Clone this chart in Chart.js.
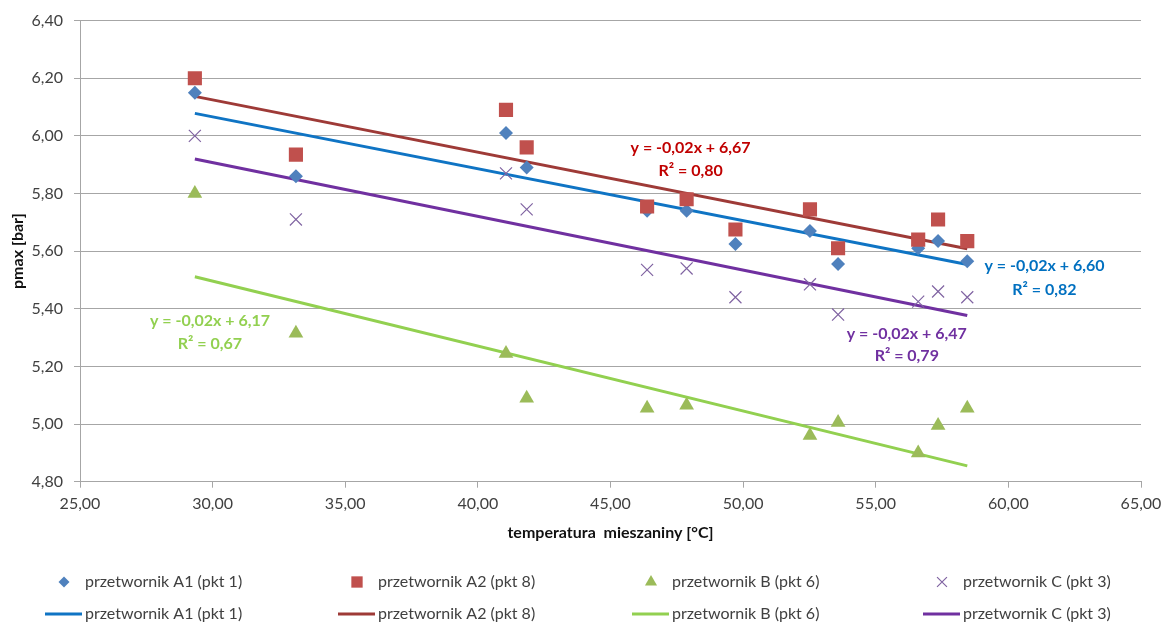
<!DOCTYPE html>
<html>
<head>
<meta charset="utf-8">
<script src="https://cdn.jsdelivr.net/npm/chart.js@4"></script>
<style>
  body { margin: 0; background: #fff; }
  #chart { display: block; }
</style>
</head>
<body>
<canvas id="chart" width="1169" height="625"></canvas>
<script>
// temperatura mieszaniny [°C] dla kolejnych pomiarów
const temps = [29.33, 33.14, 41.06, 41.84, 46.38, 47.87, 49.71, 52.52, 53.58, 56.60, 57.35, 58.45];

// pmax [bar] dla każdego przetwornika
const valsA1 = [6.15, 5.86, 6.01, 5.89, 5.74, 5.74, 5.625, 5.67, 5.555, 5.61, 5.635, 5.565];
const valsA2 = [6.20, 5.935, 6.09, 5.96, 5.755, 5.78, 5.675, 5.745, 5.61, 5.64, 5.71, 5.635];
const valsB  = [5.80, 5.315, 5.245, 5.09, 5.055, 5.065, null, 4.96, 5.005, 4.90, 4.995, 5.055];
const valsC  = [6.00, 5.71, 5.87, 5.745, 5.535, 5.54, 5.44, 5.485, 5.38, 5.425, 5.46, 5.44];

// linie trendu: początek i koniec
const trendX  = [29.33, 58.45];
const trendA1 = [6.078, 5.554];
const trendA2 = [6.137, 5.608];
const trendB  = [5.511, 4.855];
const trendC  = [5.920, 5.377];

const seriesNames = ['przetwornik A1 (pkt 1)', 'przetwornik A2 (pkt 8)', 'przetwornik B (pkt 6)', 'przetwornik C (pkt 3)'];

// równania trendu i ich położenie (w jednostkach osi)
const eqTexts = ['y = -0,02x + 6,60', 'y = -0,02x + 6,67', 'y = -0,02x + 6,17', 'y = -0,02x + 6,47'];
const r2Texts = ['R² = 0,82', 'R² = 0,80', 'R² = 0,67', 'R² = 0,79'];
const eqX  = [61.36, 48.02, 29.90, 56.17];
const eqY  = [5.549, 5.960, 5.357, 5.314];
const r2Y  = [5.467, 5.880, 5.277, 5.238];

const yTicks = [4.8, 5.0, 5.2, 5.4, 5.6, 5.8, 6.0, 6.2, 6.4];
const xTicks = [25, 30, 35, 40, 45, 50, 55, 60, 65];

const colors = {
    a1: '#4F81BD', a2: '#C0504D', b: '#9BBB59', c: '#8064A2',
    trendA1: '#0F74C4', trendA2: '#9E3A37', trendB: '#92D050', trendC: '#7030A0',
    textA1: '#0070C0', textA2: '#C00000', textB: '#92D050', textC: '#7030A0',
    grid: '#A6A6A6', tick: '#404040'
};

const FONT = 'Lato, "Open Sans", sans-serif';

const pts = vals => temps.map((t, i) => ({ x: t, y: vals[i] })).filter(p => p.y !== null);
const line = vals => trendX.map((t, i) => ({ x: t, y: vals[i] }));

function scatterSet(label, vals, style, radius, color, order) {
    return {
        label, data: pts(vals), showLine: false,
        pointStyle: style, pointRadius: radius, pointHoverRadius: radius,
        backgroundColor: color, borderColor: color,
        borderWidth: style === 'crossRot' ? 1.2 : 0,
        order
    };
}

function trendSet(label, vals, color, order) {
    return {
        label, data: line(vals), showLine: true, pointRadius: 0,
        borderColor: color, backgroundColor: color, borderWidth: 3,
        pointStyle: 'line', order
    };
}

const datasets = [
    scatterSet(seriesNames[0], valsA1, 'rectRot', 7, colors.a1, 4),
    scatterSet(seriesNames[1], valsA2, 'rect', 10, colors.a2, 3),
    scatterSet(seriesNames[2], valsB, 'triangle', 8.5, colors.b, 2),
    scatterSet(seriesNames[3], valsC, 'crossRot', 8.5, colors.c, 1),
    trendSet(seriesNames[0], trendA1, colors.trendA1, 8),
    trendSet(seriesNames[1], trendA2, colors.trendA2, 7),
    trendSet(seriesNames[2], trendB, colors.trendB, 6),
    trendSet(seriesNames[3], trendC, colors.trendC, 5)
];

// etykiety z równaniami trendu
const trendLabels = {
    id: 'trendLabels',
    afterDatasetsDraw(chart) {
        const { ctx, scales: { x, y } } = chart;
        const textColors = [colors.textA1, colors.textA2, colors.textB, colors.textC];
        ctx.save();
        ctx.font = 'bold 16px ' + FONT;
        ctx.textAlign = 'center';
        ctx.textBaseline = 'middle';
        eqTexts.forEach((t, i) => {
            ctx.fillStyle = textColors[i];
            ctx.fillText(t, x.getPixelForValue(eqX[i]), y.getPixelForValue(eqY[i]));
            ctx.fillText(r2Texts[i], x.getPixelForValue(eqX[i]), y.getPixelForValue(r2Y[i]));
        });
        ctx.restore();
    }
};

// legenda w układzie 4 kolumny x 2 wiersze
const gridLegend = {
    id: 'gridLegend',
    afterDraw(chart) {
        const { ctx } = chart;
        const colX = [85, 378, 672, 963];
        const rowY = [582, 614];
        ctx.save();
        ctx.font = '16px ' + FONT;
        ctx.textBaseline = 'middle';
        ctx.textAlign = 'left';
        chart.data.datasets.forEach((ds, i) => {
            const col = i % 4, row = Math.floor(i / 4);
            const tx = colX[col], ty = rowY[row];
            if (row === 0) {
                const r = ds.pointStyle === 'rect' ? 8 : ds.pointStyle === 'triangle' ? 7 : ds.pointStyle === 'crossRot' ? 7 : 5.5;
                ctx.fillStyle = ds.backgroundColor;
                ctx.strokeStyle = ds.borderColor;
                ctx.lineWidth = ds.borderWidth || 1;
                Chart.helpers.drawPoint(ctx, { pointStyle: ds.pointStyle, radius: r, rotation: 0, borderWidth: ds.borderWidth }, tx - 21, ty);
            } else {
                ctx.strokeStyle = ds.borderColor;
                ctx.lineWidth = 3;
                ctx.beginPath();
                ctx.moveTo(tx - 40, ty);
                ctx.lineTo(tx - 3, ty);
                ctx.stroke();
            }
            ctx.fillStyle = colors.tick;
            ctx.fillText(ds.label, tx, ty);
        });
        ctx.restore();
    }
};

const fmt = v => Number(v).toFixed(2).replace('.', ',');

const ctx = document.getElementById('chart').getContext('2d');
const chart = new Chart(ctx, {
    type: 'scatter',
    data: { datasets },
    options: {
        responsive: false,
        animation: false,
        layout: { padding: { left: 0, top: 15, right: 28, bottom: 0 } },
        plugins: {
            legend: { display: false },
            tooltip: { enabled: false }
        },
        scales: {
            x: {
                type: 'linear', min: 25, max: 65,
                afterBuildTicks: s => { s.ticks = xTicks.map(v => ({ value: v })); },
                afterFit: s => { s.height = 143.3; },
                grid: { drawOnChartArea: false, drawTicks: true, tickLength: 6, color: colors.grid },
                border: { color: colors.grid },
                ticks: { padding: 7, color: colors.tick, font: { family: FONT, size: 16 }, callback: fmt, maxRotation: 0 },
                title: {
                    display: true, text: 'temperatura  mieszaniny [°C]', color: '#111',
                    font: { family: FONT, size: 16, weight: 'bold' },
                    padding: { top: 0, bottom: 83 }
                }
            },
            y: {
                type: 'linear', min: 4.8, max: 6.4,
                afterBuildTicks: s => { s.ticks = yTicks.map(v => ({ value: v })); },
                afterFit: s => { s.width = 80; },
                grid: { color: colors.grid, tickLength: 6 },
                border: { color: colors.grid },
                ticks: { padding: 11, color: colors.tick, font: { family: FONT, size: 16 }, callback: fmt },
                title: {
                    display: true, text: 'pmax [bar]', color: '#111',
                    font: { family: FONT, size: 16, weight: 'bold' },
                    padding: { top: 8, bottom: 0 }
                }
            }
        }
    },
    plugins: [trendLabels, gridLegend]
});
</script>
</body>
</html>
